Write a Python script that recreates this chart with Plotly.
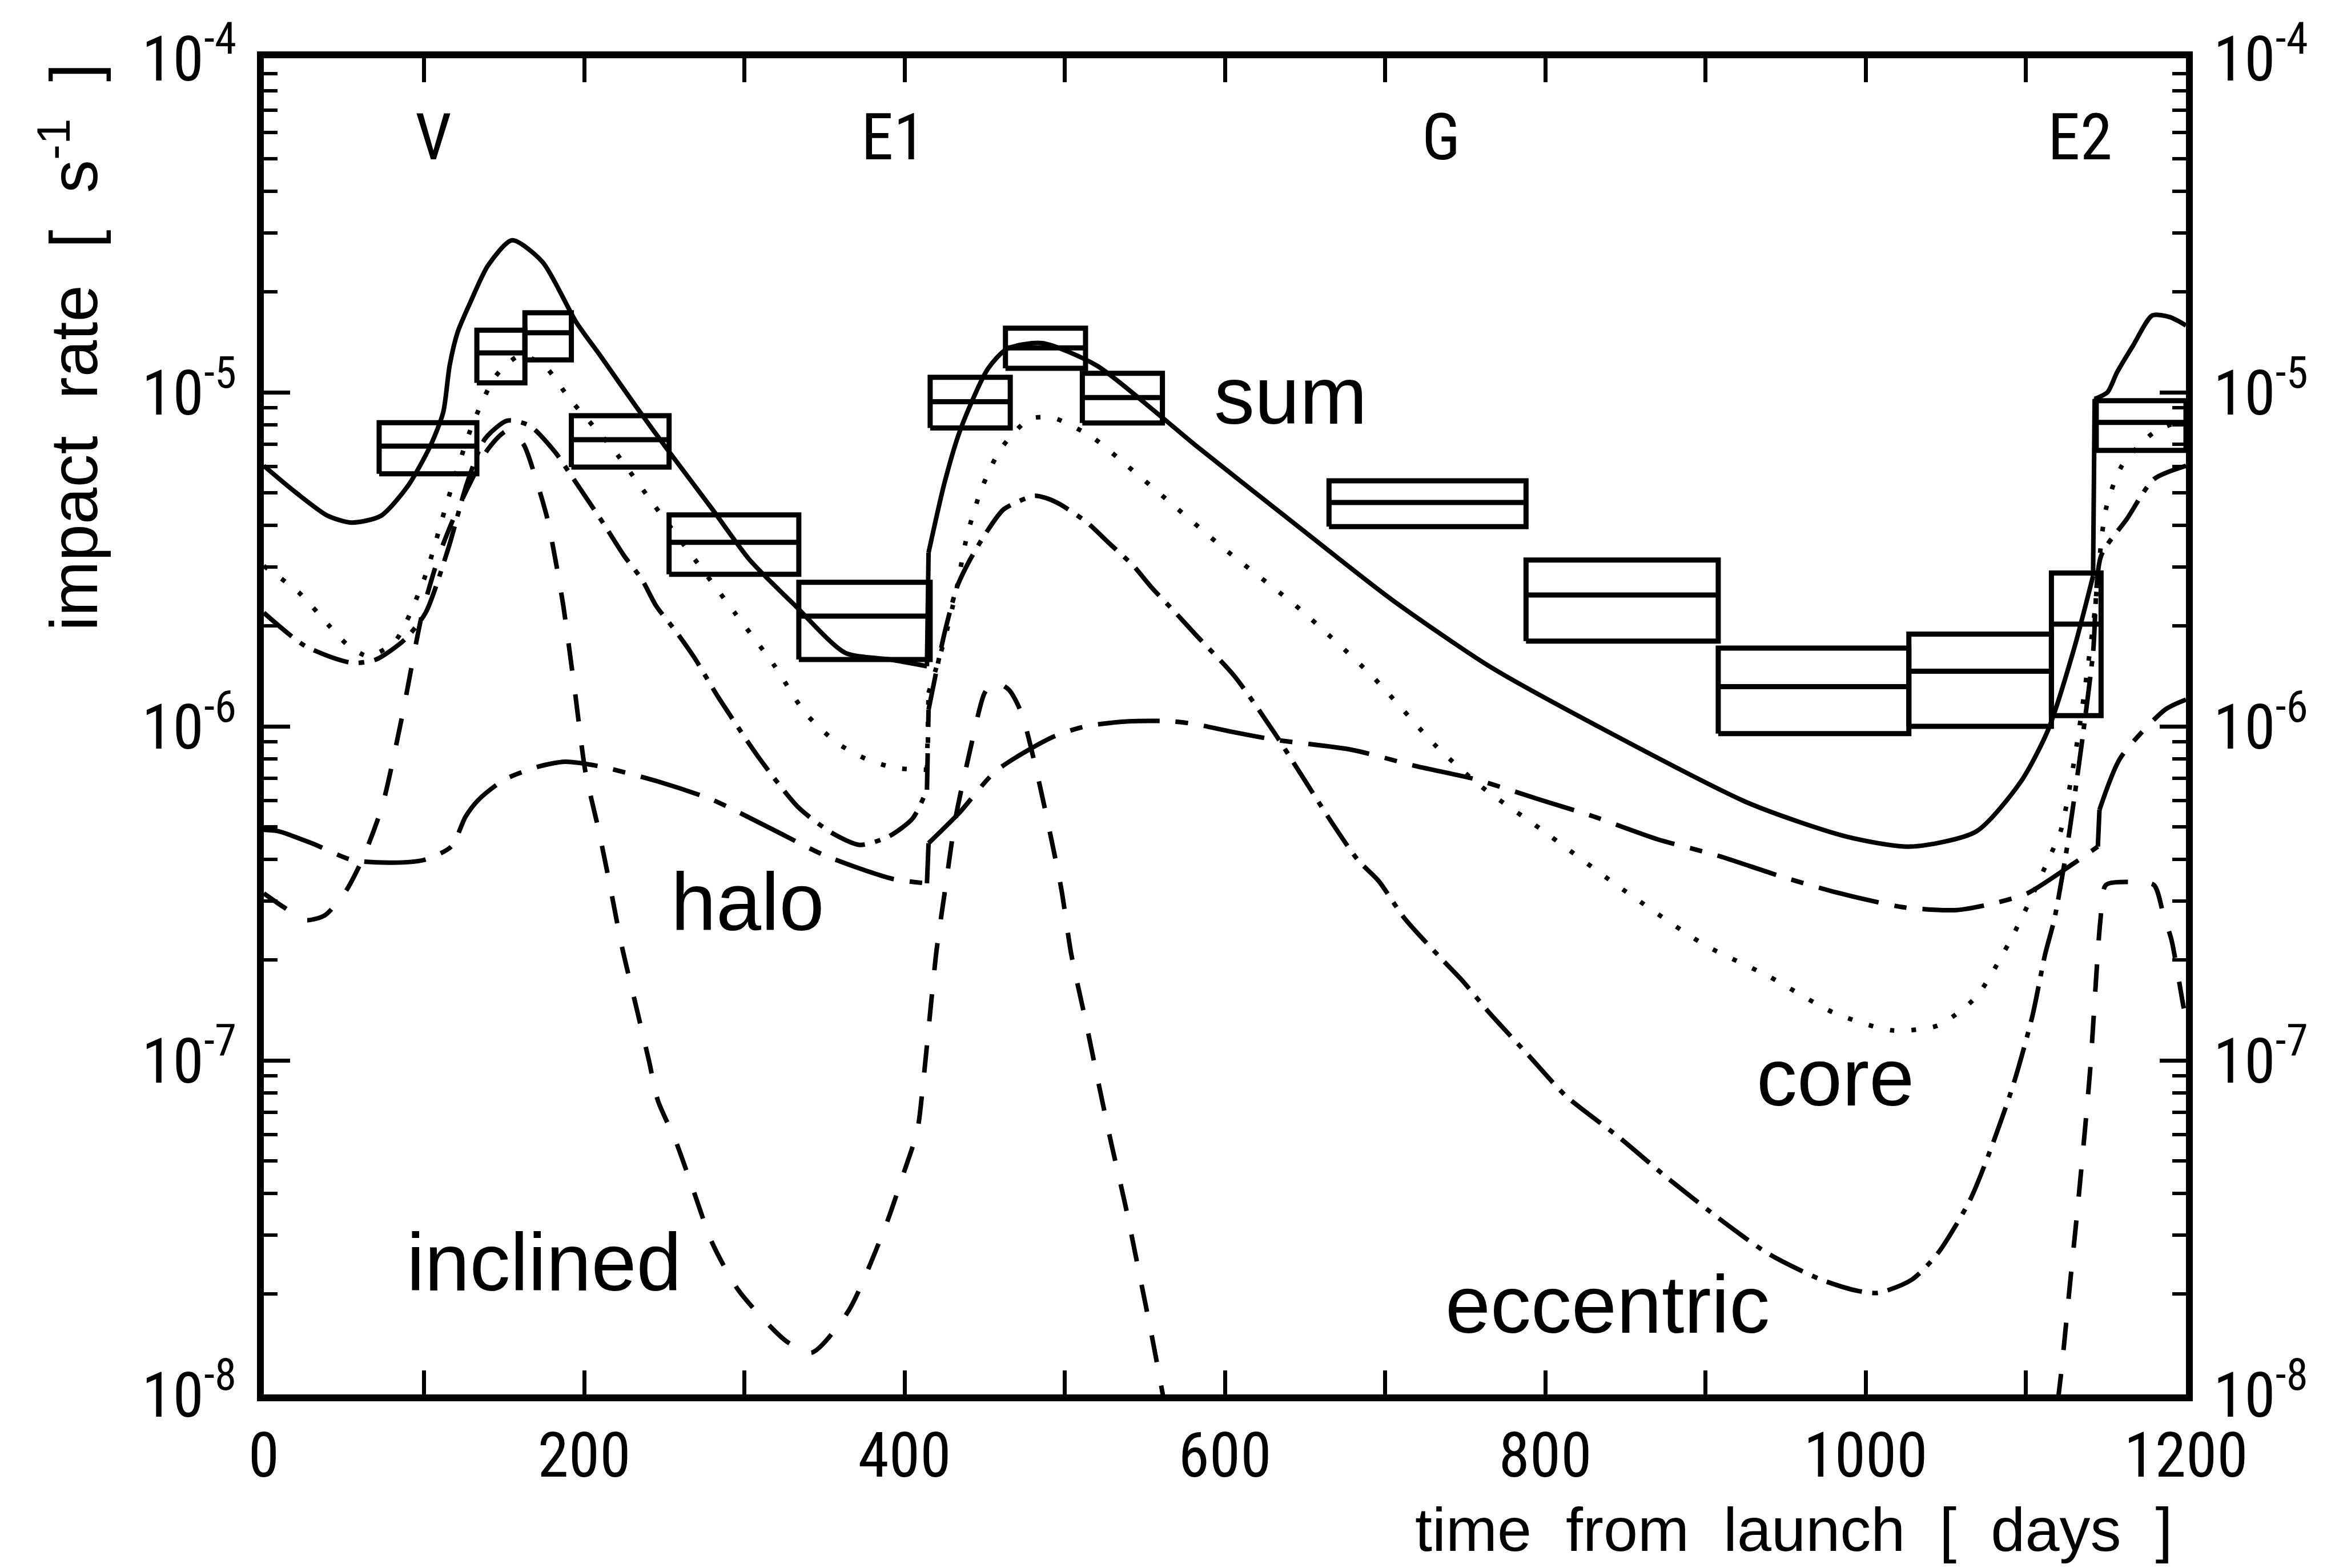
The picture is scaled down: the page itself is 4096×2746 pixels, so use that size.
import plotly.graph_objects as go

# ---------------- data (log10 of impact rate, s^-1) ----------------
sum_days = [0, 20, 40, 55, 73, 90, 104, 112, 116, 121, 129, 140, 155, 174, 195, 210, 232, 251, 280, 303,
            332, 363, 391, 414, 415, 425, 435, 452, 464, 486, 520, 557, 582, 640, 704, 765, 825, 927,
            988, 1028, 1069, 1097, 1114, 1130, 1142, 1143, 1151, 1157, 1167, 1179, 1190, 1200]
sum_log = [-5.22, -5.30, -5.37, -5.39, -5.37, -5.28, -5.16, -5.06, -4.92, -4.82, -4.73, -4.62, -4.545,
           -4.61, -4.79, -4.89, -5.04, -5.165, -5.35, -5.50, -5.64, -5.78, -5.80, -5.82, -5.48, -5.27,
           -5.11, -4.93, -4.87, -4.853, -4.92, -5.06, -5.16, -5.38, -5.62, -5.82, -5.98, -6.23, -6.33,
           -6.36, -6.315, -6.165, -6.01, -5.77, -5.55, -5.02, -5.00, -4.94, -4.86, -4.77, -4.775, -4.80]

core_days = [0, 22, 41, 52, 65, 82, 100, 115, 130, 145, 160, 175, 191, 218, 244, 269, 294, 319, 338, 358,
             377, 395, 414, 415, 425, 432, 439, 448, 460, 478, 493, 517, 539, 561, 600, 647, 692, 732,
             760, 797, 846, 899, 939, 980, 1016, 1045, 1069, 1089, 1102, 1114, 1122, 1132, 1142, 1150,
             1160, 1180, 1200]
core_log = [-5.52, -5.60, -5.70, -5.755, -5.79, -5.745, -5.56, -5.32, -5.10, -4.95, -4.89, -4.92, -5.02,
            -5.17, -5.34, -5.50, -5.66, -5.82, -5.96, -6.05, -6.10, -6.125, -6.13, -5.90, -5.74, -5.60,
            -5.43, -5.29, -5.17, -5.08, -5.077, -5.134, -5.22, -5.31, -5.47, -5.65, -5.85, -6.06, -6.18,
            -6.307, -6.48, -6.653, -6.747, -6.857, -6.91, -6.896, -6.81, -6.653, -6.528, -6.40, -6.31,
            -6.05, -5.70, -5.35, -5.22, -5.12, -5.08]

ecc_days = [0, 26, 55, 70, 88, 101, 115, 127, 138, 152, 166, 182, 192, 204, 213, 225, 236, 245, 257, 269,
            284, 310, 334, 355, 372, 390, 405, 414, 415, 425, 433, 441, 451, 462, 481, 488, 497, 514, 528,
            543, 554, 569, 582, 606, 631, 647, 667, 683, 696, 712, 736, 748, 765, 789, 813, 846, 874, 907,
            939, 972, 995, 1008, 1029, 1045, 1065, 1077, 1092, 1104, 1112, 1118, 1126, 1135, 1142, 1147,
            1163, 1180, 1200]
ecc_log = [-5.66, -5.76, -5.81, -5.80, -5.74, -5.66, -5.47, -5.27, -5.14, -5.085, -5.10, -5.18, -5.25,
           -5.335, -5.40, -5.49, -5.56, -5.64, -5.714, -5.796, -5.915, -6.10, -6.244, -6.32, -6.355, -6.33,
           -6.276, -6.19, -5.95, -5.72, -5.58, -5.50, -5.42, -5.35, -5.31, -5.316, -5.335, -5.39, -5.453,
           -5.52, -5.583, -5.659, -5.727, -5.85, -6.02, -6.14, -6.29, -6.40, -6.463, -6.574, -6.70, -6.76,
           -6.857, -6.982, -7.107, -7.23, -7.343, -7.468, -7.578, -7.656, -7.69, -7.696, -7.656, -7.578,
           -7.42, -7.28, -7.076, -6.87, -6.684, -6.574, -6.355, -6.05, -5.78, -5.49, -5.38, -5.26, -5.22]

incl_days = [0, 12, 26, 38, 51, 62, 74, 86, 99, 110, 120, 130, 140, 152, 162, 169, 177, 182, 187, 194.5,
             200.7, 209, 215, 223.6, 232, 240.4, 246, 257, 267.5, 280, 296.6, 326, 342, 365, 388.6, 400,
             408, 412, 416, 420, 425.6, 431.8, 441, 450, 456, 465, 473, 482.7, 490, 498, 504, 513, 521,
             529, 537.7, 545.8, 555, 562, None, 1120, 1122, 1128, 1133, 1140, 1146.6, 1150, 1165, 1180,
             1186, 1191, 1198.5, 1200]
incl_log = [-6.50, -6.54, -6.58, -6.566, -6.495, -6.393, -6.237, -5.978, -5.66, -5.48, -5.36, -5.26, -5.17,
            -5.115, -5.155, -5.246, -5.378, -5.50, -5.64, -5.906, -6.134, -6.31, -6.45, -6.66, -6.83,
            -7.00, -7.12, -7.24, -7.38, -7.547, -7.69, -7.84, -7.875, -7.75, -7.49, -7.33, -7.21, -7.05,
            -6.857, -6.67, -6.48, -6.276, -6.07, -5.90, -5.867, -5.89, -5.96, -6.14, -6.30, -6.49, -6.68,
            -6.88, -7.066, -7.247, -7.43, -7.62, -7.84, -8.02, None, -8.02, -7.94, -7.65, -7.41, -7.04,
            -6.58, -6.475, -6.466, -6.475, -6.565, -6.64, -6.84, -6.87]

halo_days = [0, 9, 30, 55, 80, 100, 117, 126, 134, 150, 172, 188, 210, 246, 280, 317, 350, 392, 414, 415,
             434, 457, 492, 513, 540, 567, 582, 604, 631, 679, 720, 756, 797, 829, 870, 907, 947, 980,
             1024, 1057, 1080, 1101, 1130, 1145, 1146, 1159, 1187, 1200]
halo_log = [-6.31, -6.314, -6.35, -6.40, -6.408, -6.40, -6.36, -6.27, -6.22, -6.16, -6.12, -6.106, -6.12,
            -6.165, -6.22, -6.307, -6.386, -6.456, -6.47, -6.35, -6.26, -6.134, -6.033, -6.00, -5.985,
            -5.985, -5.994, -6.016, -6.04, -6.07, -6.12, -6.158, -6.22, -6.268, -6.338, -6.386, -6.449,
            -6.495, -6.542, -6.55, -6.53, -6.50, -6.41, -6.36, -6.25, -6.095, -5.95, -5.92]

# measured rates (boxes): time interval, lower / central / upper value (log10)
box_start_days = [72, 133, 163, 192, 253, 334, 416, 463, 511, 665, 788, 908, 1027, 1116, 1144]
box_end_days = [133, 163, 192, 253, 334, 416, 466, 513, 561, 788, 908, 1027, 1116, 1147, 1200]
box_low_log = [-5.244, -4.972, -4.903, -5.224, -5.545, -5.80, -5.107, -4.928, -5.092, -5.402, -5.745,
               -6.022, -6.00, -5.968, -5.174]
box_mid_log = [-5.161, -4.882, -4.822, -5.142, -5.449, -5.67, -5.028, -4.867, -5.016, -5.33, -5.607,
               -5.881, -5.835, -5.694, -5.09]
box_high_log = [-5.091, -4.814, -4.762, -5.07, -5.367, -5.569, -4.955, -4.808, -4.943, -5.265, -5.502,
                -5.766, -5.724, -5.541, -5.025]

flyby_names = ["V", "E1", "G", "E2"]
flyby_days = [106, 393, 735, 1134]
flyby_label_log = -4.236

curve_label_names = ["sum", "halo", "core", "inclined", "eccentric"]
curve_label_days = [641, 302, 981, 175, 839]
curve_label_log = [-5.01, -6.525, -7.05, -7.605, -7.73]

x_tick_days = list(range(0, 1201, 100))
x_tick_text = [str(v) if v % 200 == 0 else "" for v in x_tick_days]
y_decade_exp = [-8, -7, -6, -5, -4]
y_minor_mult = [2, 3, 4, 5, 6, 7, 8, 9]

# ---------------- styling ----------------
NUM_FONT = "Liberation Sans Narrow, Roboto Condensed, DejaVu Sans Condensed, Liberation Sans, Arial, sans-serif"
TXT_FONT = "Liberation Sans, Arial, DejaVu Sans, sans-serif"
BLACK = "black"

styles = {
    "sum": dict(width=8, dash="solid"),
    "core": dict(width=8, dash="8px,30px"),
    "eccentric": dict(width=8, dash="64px,18px,10px,18px"),
    "inclined": dict(width=8, dash="48px,42px"),
    "halo": dict(width=8, dash="108px,28px,22px,28px"),
}


def split_segments(days, logs):
    segs = []
    cx, cy = [], []
    for x, y in zip(days, logs):
        if x is None or y is None:
            if cx:
                segs.append(("spline", cx, cy))
            cx, cy = [], []
            continue
        if cx and abs(x - cx[-1]) <= 1.5 and abs(y - cy[-1]) >= 0.08:
            segs.append(("spline", cx, cy))
            segs.append(("linear", [cx[-1], x], [cy[-1], y]))
            cx, cy = [x], [y]
        else:
            cx.append(x)
            cy.append(y)
    if cx:
        segs.append(("spline", cx, cy))
    return segs


fig = go.Figure()

curves = [("sum", sum_days, sum_log), ("core", core_days, core_log), ("eccentric", ecc_days, ecc_log),
          ("inclined", incl_days, incl_log), ("halo", halo_days, halo_log)]
for name, d, l in curves:
    st = styles[name]
    for kind, xs, ys in split_segments(d, l):
        fig.add_trace(go.Scatter(
            x=xs, y=[10 ** v for v in ys], mode="lines", name=name, showlegend=False, hoverinfo="skip",
            line=dict(color=BLACK, width=st["width"], dash=st["dash"], shape=kind,
                      **({"smoothing": 0.7} if kind == "spline" else {}))))

# boxes
bx, by = [], []
for x0, x1, lo, mid, hi in zip(box_start_days, box_end_days, box_low_log, box_mid_log, box_high_log):
    bx += [x0, x1, x1, x0, x0, None, x0, x1, None]
    by += [10 ** lo, 10 ** lo, 10 ** hi, 10 ** hi, 10 ** lo, None, 10 ** mid, 10 ** mid, None]
fig.add_trace(go.Scatter(x=bx, y=by, mode="lines", line=dict(color=BLACK, width=9), showlegend=False,
                         hoverinfo="skip", connectgaps=False))

# invisible trace to activate right axis
fig.add_trace(go.Scatter(x=[box_start_days[0]], y=[10 ** box_mid_log[0]], yaxis="y2", mode="markers",
                         marker=dict(opacity=0), showlegend=False, hoverinfo="skip"))

annotations = []
for n, d in zip(flyby_names, flyby_days):
    annotations.append(dict(x=d, y=flyby_label_log, xref="x", yref="y", text=n, showarrow=False,
                            font=dict(family=NUM_FONT, size=114, color=BLACK), xanchor="center",
                            yanchor="middle"))
for n, d, l in zip(curve_label_names, curve_label_days, curve_label_log):
    annotations.append(dict(x=d, y=l, xref="x", yref="y", text=n, showarrow=False,
                            font=dict(family=TXT_FONT, size=142, color=BLACK), xanchor="center",
                            yanchor="middle"))
annotations.append(dict(x=0.9935, y=-0.101, xref="paper", yref="paper",
                        text="time\u00a0 from\u00a0 launch\u00a0 [\u00a0 days\u00a0 ]", showarrow=False,
                        font=dict(family=TXT_FONT, size=108, color=BLACK), xanchor="right",
                        yanchor="middle"))
annotations.append(dict(x=-0.1009, y=0.7839, xref="paper", yref="paper",
                        text="impact\u00a0 rate\u00a0 [\u00a0 s<sup>-1</sup>\u00a0 ]", showarrow=False,
                        textangle=-90, font=dict(family=TXT_FONT, size=116, color=BLACK),
                        xanchor="center", yanchor="middle"))

y_major_vals = [10.0 ** e for e in y_decade_exp]
y_major_text = ["10<sup>%d</sup>" % e for e in y_decade_exp]
y_minor_vals = [m * 10.0 ** e for e in y_decade_exp[:-1] for m in y_minor_mult]

yaxis_common = dict(
    type="log", range=[-8, -4], showline=True, linecolor=BLACK, linewidth=12, ticks="inside",
    ticklen=46, tickwidth=7, tickcolor=BLACK, tickmode="array", tickvals=y_major_vals,
    ticktext=y_major_text, tickfont=dict(family=NUM_FONT, size=110, color=BLACK),
    minor=dict(ticks="inside", ticklen=24, tickwidth=6, tickcolor=BLACK, tickmode="array",
               tickvals=y_minor_vals, showgrid=False),
    showgrid=False, zeroline=False, ticklabelstandoff=14,
)

fig.update_layout(
    width=4096, height=2746,
    margin=dict(l=462, r=268, t=102, b=304, pad=0),
    paper_bgcolor="white", plot_bgcolor="white", showlegend=False,
    xaxis=dict(range=[0, 1200], showline=True, linecolor=BLACK, linewidth=12, mirror="ticks",
               ticks="inside", ticklen=42, tickwidth=7, tickcolor=BLACK, tickmode="array",
               tickvals=x_tick_days, ticktext=x_tick_text,
               tickfont=dict(family=NUM_FONT, size=110, color=BLACK), showgrid=False, zeroline=False,
               ticklabelstandoff=0),
    yaxis=yaxis_common,
    yaxis2=dict(yaxis_common, overlaying="y", side="right", anchor="x"),
    annotations=annotations,
)

fig.write_html("out.html", post_script="document.body.style.margin='0';")
